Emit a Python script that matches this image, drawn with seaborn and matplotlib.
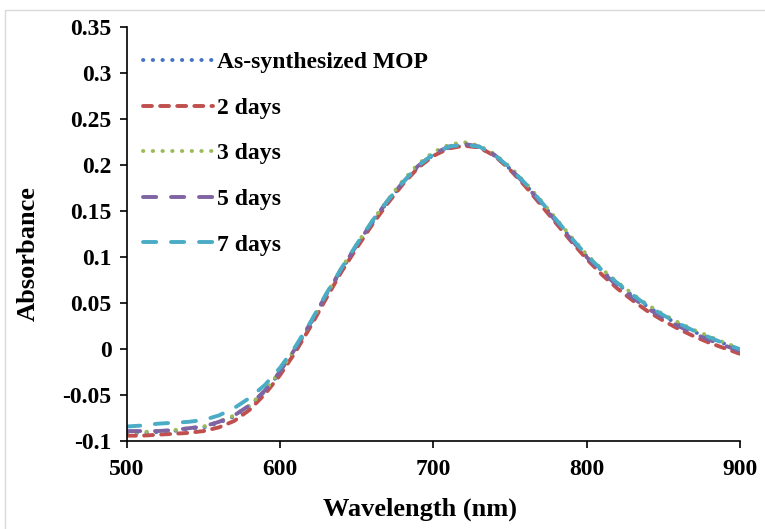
import numpy as np
import pandas as pd
import matplotlib
matplotlib.use("Agg")
import matplotlib.pyplot as plt
from matplotlib.patches import Rectangle
import seaborn as sns

wavelength = list(range(500, 901, 10))

as_synth = [-0.091, -0.091, -0.090, -0.089, -0.087, -0.085, -0.080, -0.073, -0.062, -0.046,
            -0.025, 0.000, 0.028, 0.058, 0.086, 0.112, 0.137, 0.160, 0.180, 0.198,
            0.211, 0.219, 0.222, 0.219, 0.210, 0.196, 0.179, 0.160, 0.140, 0.120,
            0.101, 0.085, 0.071, 0.058, 0.046, 0.036, 0.027, 0.019, 0.012, 0.006, 0.000]
days2 = [-0.094, -0.094, -0.093, -0.092, -0.091, -0.089, -0.085, -0.078, -0.066, -0.049,
         -0.028, -0.003, 0.025, 0.055, 0.084, 0.110, 0.135, 0.158, 0.179, 0.197,
         0.210, 0.218, 0.221, 0.219, 0.210, 0.195, 0.177, 0.157, 0.137, 0.117,
         0.098, 0.081, 0.066, 0.053, 0.041, 0.031, 0.022, 0.014, 0.007, 0.001, -0.005]
days3 = [-0.090, -0.090, -0.089, -0.088, -0.086, -0.084, -0.079, -0.072, -0.061, -0.045,
         -0.024, 0.001, 0.029, 0.059, 0.088, 0.114, 0.139, 0.162, 0.183, 0.201,
         0.214, 0.222, 0.225, 0.221, 0.212, 0.198, 0.181, 0.162, 0.142, 0.122,
         0.103, 0.087, 0.073, 0.060, 0.048, 0.038, 0.029, 0.021, 0.014, 0.007, 0.001]
days5 = [-0.089, -0.089, -0.089, -0.088, -0.086, -0.084, -0.079, -0.072, -0.061, -0.045,
         -0.024, 0.001, 0.029, 0.059, 0.087, 0.113, 0.138, 0.161, 0.181, 0.199,
         0.212, 0.220, 0.223, 0.220, 0.211, 0.196, 0.179, 0.159, 0.139, 0.119,
         0.100, 0.084, 0.069, 0.056, 0.044, 0.034, 0.025, 0.017, 0.010, 0.004, -0.002]
days7 = [-0.084, -0.083, -0.081, -0.080, -0.079, -0.077, -0.072, -0.064, -0.053, -0.039,
         -0.020, 0.003, 0.030, 0.060, 0.088, 0.114, 0.139, 0.161, 0.181, 0.199,
         0.212, 0.220, 0.222, 0.220, 0.211, 0.197, 0.180, 0.161, 0.141, 0.121,
         0.102, 0.086, 0.072, 0.059, 0.047, 0.037, 0.028, 0.020, 0.013, 0.006, 0.000]

labels = ["As-synthesized MOP", "2 days", "3 days", "5 days", "7 days"]
series = [as_synth, days2, days3, days5, days7]
colors = ["#4472C4", "#C0504D", "#9BBB59", "#8064A2", "#4BACC6"]
dash_styles = [(0.1, 2.4), (2.3, 2.1), (0.1, 2.4), (3.4, 3.8), (3.4, 3.8)]

df = pd.concat([pd.DataFrame({"Wavelength": wavelength, "Absorbance": s, "Sample": lab})
                for lab, s in zip(labels, series)], ignore_index=True)

fig = plt.figure(figsize=(7.65, 5.29), dpi=100)
# light chart-area border (partially cropped in the reference)
fig.patches.append(Rectangle((0.0065, -0.05), 1.1, 0.05 + 0.981, transform=fig.transFigure,
                             fill=False, edgecolor="#D9D9D9", linewidth=1.0, zorder=0))
ax = fig.add_axes([0.166, 0.166, 0.801, 0.783])

for lab, col, ds in zip(labels, colors, dash_styles):
    sub = df[df["Sample"] == lab]
    sns.lineplot(data=sub, x="Wavelength", y="Absorbance", ax=ax, color=col,
                 linewidth=2.8, label=lab, dashes=False)
    line = ax.get_lines()[-1]
    line.set_dashes(ds)
    line.set_dash_capstyle("round")

ax.set_xlim(500, 900)
ax.set_ylim(-0.1, 0.35)
ax.set_xticks([500, 600, 700, 800, 900])
ax.set_yticks([-0.1, -0.05, 0, 0.05, 0.1, 0.15, 0.2, 0.25, 0.3, 0.35])
ax.set_yticklabels(["-0.1", "-0.05", "0", "0.05", "0.1", "0.15", "0.2", "0.25", "0.3", "0.35"])

font = "Liberation Serif"
for t in ax.get_xticklabels() + ax.get_yticklabels():
    t.set_fontfamily(font)
    t.set_fontweight("bold")
    t.set_fontsize(17)
ax.set_xlabel("Wavelength (nm)", fontfamily=font, fontweight="bold", fontsize=19)
ax.set_ylabel("Absorbance", fontfamily=font, fontweight="bold", fontsize=19)
ax.xaxis.set_label_coords(0.478, -0.135)
ax.yaxis.set_label_coords(-0.142, 0.452)

for sp in ["top", "right"]:
    ax.spines[sp].set_visible(False)
for sp in ["left", "bottom"]:
    ax.spines[sp].set_linewidth(1.2)
    ax.spines[sp].set_color("black")
ax.tick_params(direction="out", length=5, width=1.2, colors="black")
ax.tick_params(axis="x", pad=8)
ax.tick_params(axis="y", pad=6)
ax.grid(False)

leg = ax.legend(loc="upper left", frameon=False, handlelength=3.0, handletextpad=0.15,
                labelspacing=1.02, borderaxespad=0.0, bbox_to_anchor=(0.01, 0.963),
                prop={"family": font, "weight": "bold", "size": 17})

fig.savefig("out.png", dpi=100)
